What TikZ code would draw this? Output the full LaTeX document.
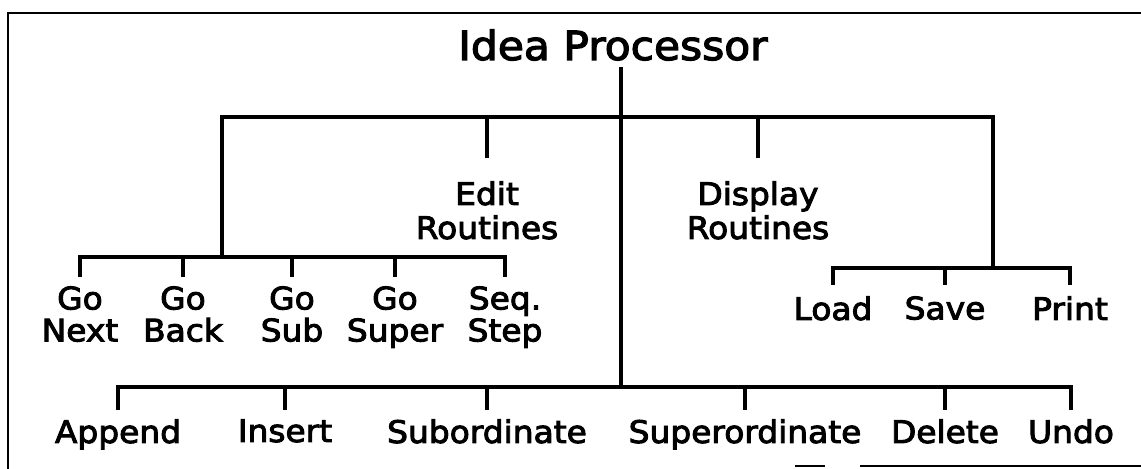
\documentclass[tikz,border=0pt]{standalone}
\usepackage{fontspec}
\newfontfamily\plotfont[FakeStretch=1.06,FakeBold=3]{DejaVu Sans}
\begin{document}
\begin{tikzpicture}[x=0.5pt,y=-0.5pt,
  link/.style={line width=1.6pt},
  frameline/.style={line width=1.4pt},
  label/.style={inner sep=0pt, anchor=north, align=center,
                font=\plotfont\fontsize{15.5}{16}\selectfont},
  wide/.style={font=\plotfont\fontsize{15.5}{17}\selectfont},
  titlebox/.style={inner sep=0pt, anchor=base,
                font=\plotfont\fontsize{20}{22}\selectfont}]
\path[use as bounding box] (0,0) rectangle (1141,469);

% surrounding frame
\draw[frameline] (8,469) -- (8,13) -- (1141,13);
\draw[frameline] (795,466) -- (825,466);
\draw[frameline] (860,466) -- (1141,466);

% root
\node[titlebox] (root) at (613,60) {Idea Processor};

% junctions of the tree
\coordinate (hub)    at (621,117);
\coordinate (hubbot) at (621,387);
\coordinate (gobar)  at (222,257);
\coordinate (iobar)  at (993,268);

% second level
\node[label,wide] (edit)    at (487,181) {Edit\\Routines};
\node[label,wide] (display) at (758,181) {Display\\Routines};

% navigation commands
\node[label] (gonext)  at (80,286)  {Go\\Next};
\node[label] (goback)  at (183,286) {Go\\Back};
\node[label] (gosub)   at (292,286) {Go\\Sub};
\node[label] (gosuper) at (395,286) {Go\\Super};
\node[label] (seqstep) at (505,286) {Seq.\\Step};

% file commands
\node[label] (load)  at (833,296)  {Load};
\node[label] (save)  at (945,296)  {Save};
\node[label] (print) at (1070,296) {Print};

% editing commands
\node[label] (append) at (118,419)  {Append};
\node[label] (insert) at (285,419)  {Insert};
\node[label] (subord) at (487,419)  {Subordinate};
\node[label] (super)  at (745,419)  {Superordinate};
\node[label] (delete) at (945,419)  {Delete};
\node[label] (undo)   at (1071,419) {Undo};

% trunk
\draw[link] (hub |- root.south) ++(0,6) -- (hubbot);

% top bar
\draw[link] (hub) -| (gobar);
\draw[link] (hub) -| (iobar);
\draw[link, shorten >=11.5pt] (hub) -| (edit);
\draw[link, shorten >=11.5pt] (hub) -| (display);

% navigation branch
\foreach \n in {gonext,goback,gosub,gosuper,seqstep}
  \draw[link, shorten >=4.5pt] (gobar) -| (\n);

% file branch
\foreach \n in {load,save,print}
  \draw[link, shorten >=5.5pt] (iobar) -| (\n);

% editing branch
\foreach \n in {append,insert,subord,super,delete,undo}
  \draw[link, shorten >=4.5pt] (hubbot) -| (\n);
\end{tikzpicture}
\end{document}
